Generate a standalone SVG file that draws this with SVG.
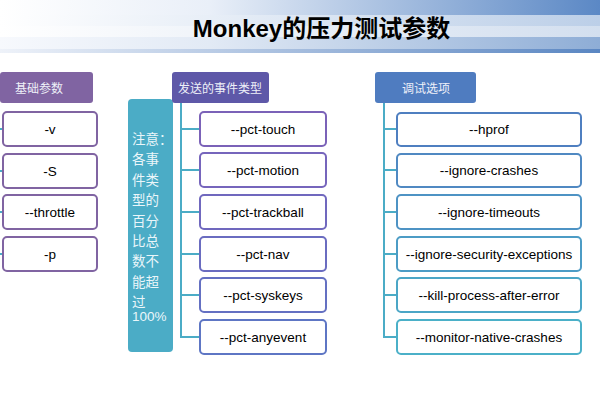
<svg xmlns="http://www.w3.org/2000/svg" width="600" height="400" viewBox="0 0 600 400">
<defs>
<linearGradient id="b1" x1="0" x2="1" y1="0" y2="0"><stop offset="0" stop-color="#ffffff"/><stop offset="0.35" stop-color="#e9eff8"/><stop offset="1" stop-color="#5b88c5"/></linearGradient>
<linearGradient id="b2" x1="0" x2="1" y1="0" y2="0"><stop offset="0" stop-color="#ffffff"/><stop offset="1" stop-color="#bccfe8"/></linearGradient>
<linearGradient id="b3" x1="0" x2="1" y1="0" y2="0"><stop offset="0" stop-color="#ffffff"/><stop offset="1" stop-color="#d3dfef"/></linearGradient>
<linearGradient id="b4" x1="0" x2="1" y1="0" y2="0"><stop offset="0" stop-color="#f7f9fd"/><stop offset="0.35" stop-color="#e2eaf5"/><stop offset="1" stop-color="#8eadd6"/></linearGradient>
<linearGradient id="b5" x1="0" x2="1" y1="0" y2="0"><stop offset="0" stop-color="#eef2f9"/><stop offset="1" stop-color="#5a86c2"/></linearGradient>
</defs>
<style>
.node{fill:#ffffff;stroke-width:2}
.lbl{font-family:"Liberation Sans","Noto Sans CJK SC",sans-serif;font-size:13.5px;fill:#000;text-anchor:middle;dominant-baseline:central}
.hdr{font-family:"Noto Sans CJK SC",sans-serif;font-size:12px;fill:#eef0f8;text-anchor:middle;dominant-baseline:central}
.conn{stroke:#4bacc6;stroke-width:2;fill:none}
.note{font-family:"Liberation Sans","Noto Sans CJK SC",sans-serif;font-size:13.5px;fill:#eaf6fa}
</style>
<rect width="600" height="400" fill="#ffffff"/>
<g id="header-band">
<rect x="0" y="0" width="600" height="15" fill="url(#b1)"/>
<rect x="0" y="15" width="600" height="11" fill="url(#b2)"/>
<rect x="0" y="26" width="600" height="11" fill="url(#b3)"/>
<rect x="0" y="37" width="600" height="12" fill="url(#b4)"/>
<rect x="0" y="49" width="600" height="4" fill="url(#b5)"/>
</g>
<text x="321.5" y="37" font-family="Liberation Sans,'Noto Sans CJK SC',sans-serif" font-size="24" font-weight="bold" text-anchor="middle" fill="#000">Monkey的压力测试参数</text>

<g id="connectors">
<line class="conn" x1="0" y1="129" x2="3" y2="129"/>
<line class="conn" x1="0" y1="171" x2="3" y2="171"/>
<line class="conn" x1="0" y1="212" x2="3" y2="212"/>
<line class="conn" x1="0" y1="254" x2="3" y2="254"/>
<path class="conn" d="M181 103 V337 H199 M181 129 H199 M181 170 H199 M181 212 H199 M181 254 H199 M181 295 H199"/>
<path class="conn" d="M384 103 V337 H396 M384 129 H396 M384 170 H396 M384 212 H396 M384 254 H396 M384 295 H396"/>
</g>

<g id="basic-header"><rect x="0" y="72" width="93" height="31" rx="3" fill="#8064a2"/><text class="hdr" x="39" y="87.5">基础参数</text></g>
<g id="n-v"><rect class="node" x="3" y="112" width="94" height="34" rx="4" stroke="#8064a2"/><text class="lbl" x="50" y="129">-v</text></g>
<g id="n-S"><rect class="node" x="3" y="154" width="94" height="34" rx="4" stroke="#8064a2"/><text class="lbl" x="50" y="171">-S</text></g>
<g id="n-throttle"><rect class="node" x="3" y="195" width="94" height="34" rx="4" stroke="#8064a2"/><text class="lbl" x="50" y="212">--throttle</text></g>
<g id="n-p"><rect class="node" x="3" y="237" width="94" height="34" rx="4" stroke="#8064a2"/><text class="lbl" x="50" y="254">-p</text></g>

<g id="note"><rect x="128" y="99" width="45" height="253" rx="4" fill="#4bacc6"/>
<text class="note" x="132" y="144">注意：</text>
<text class="note" x="132" y="164">各事</text>
<text class="note" x="132" y="184.5">件类</text>
<text class="note" x="132" y="205">型的</text>
<text class="note" x="132" y="225.5">百分</text>
<text class="note" x="132" y="246">比总</text>
<text class="note" x="132" y="266">数不</text>
<text class="note" x="132" y="286.5">能超</text>
<text class="note" x="132" y="307">过</text>
<text class="note" x="132" y="321">100%</text>
</g>

<g id="event-header"><rect x="172" y="72" width="97" height="31" rx="3" fill="#5e58a8"/><text class="hdr" x="220" y="87.5">发送的事件类型</text></g>
<g id="n-touch"><rect class="node" x="200" y="112" width="126" height="34" rx="4" stroke="#7b62b8"/><text class="lbl" x="263" y="129">--pct-touch</text></g>
<g id="n-motion"><rect class="node" x="200" y="153" width="126" height="34" rx="4" stroke="#7665bc"/><text class="lbl" x="263" y="170">--pct-motion</text></g>
<g id="n-trackball"><rect class="node" x="200" y="195" width="126" height="34" rx="4" stroke="#7068be"/><text class="lbl" x="263" y="212">--pct-trackball</text></g>
<g id="n-nav"><rect class="node" x="200" y="237" width="126" height="34" rx="4" stroke="#6a6cc0"/><text class="lbl" x="263" y="254">--pct-nav</text></g>
<g id="n-syskeys"><rect class="node" x="200" y="278" width="126" height="34" rx="4" stroke="#6470c2"/><text class="lbl" x="263" y="295">--pct-syskeys</text></g>
<g id="n-anyevent"><rect class="node" x="200" y="320" width="126" height="34" rx="4" stroke="#5e76c4"/><text class="lbl" x="263" y="337">--pct-anyevent</text></g>

<g id="debug-header"><rect x="375" y="72" width="101" height="31" rx="3" fill="#4f7cc0"/><text class="hdr" x="426" y="87.5">调试选项</text></g>
<g id="n-hprof"><rect class="node" x="397" y="113" width="184" height="33" rx="4" stroke="#4f7fc0"/><text class="lbl" x="489" y="129">--hprof</text></g>
<g id="n-crashes"><rect class="node" x="397" y="154" width="184" height="33" rx="4" stroke="#5089c2"/><text class="lbl" x="489" y="170">--ignore-crashes</text></g>
<g id="n-timeouts"><rect class="node" x="397" y="195" width="184" height="34" rx="4" stroke="#4e93c4"/><text class="lbl" x="489" y="212">--ignore-timeouts</text></g>
<g id="n-security"><rect class="node" x="397" y="237" width="184" height="34" rx="4" stroke="#4c9cc5"/><text class="lbl" x="489" y="254">--ignore-security-exceptions</text></g>
<g id="n-kill"><rect class="node" x="397" y="278" width="184" height="34" rx="4" stroke="#4ba6c6"/><text class="lbl" x="489" y="295">--kill-process-after-error</text></g>
<g id="n-monitor"><rect class="node" x="397" y="320" width="184" height="34" rx="4" stroke="#4bb0c8"/><text class="lbl" x="489" y="337">--monitor-native-crashes</text></g>
</svg>
